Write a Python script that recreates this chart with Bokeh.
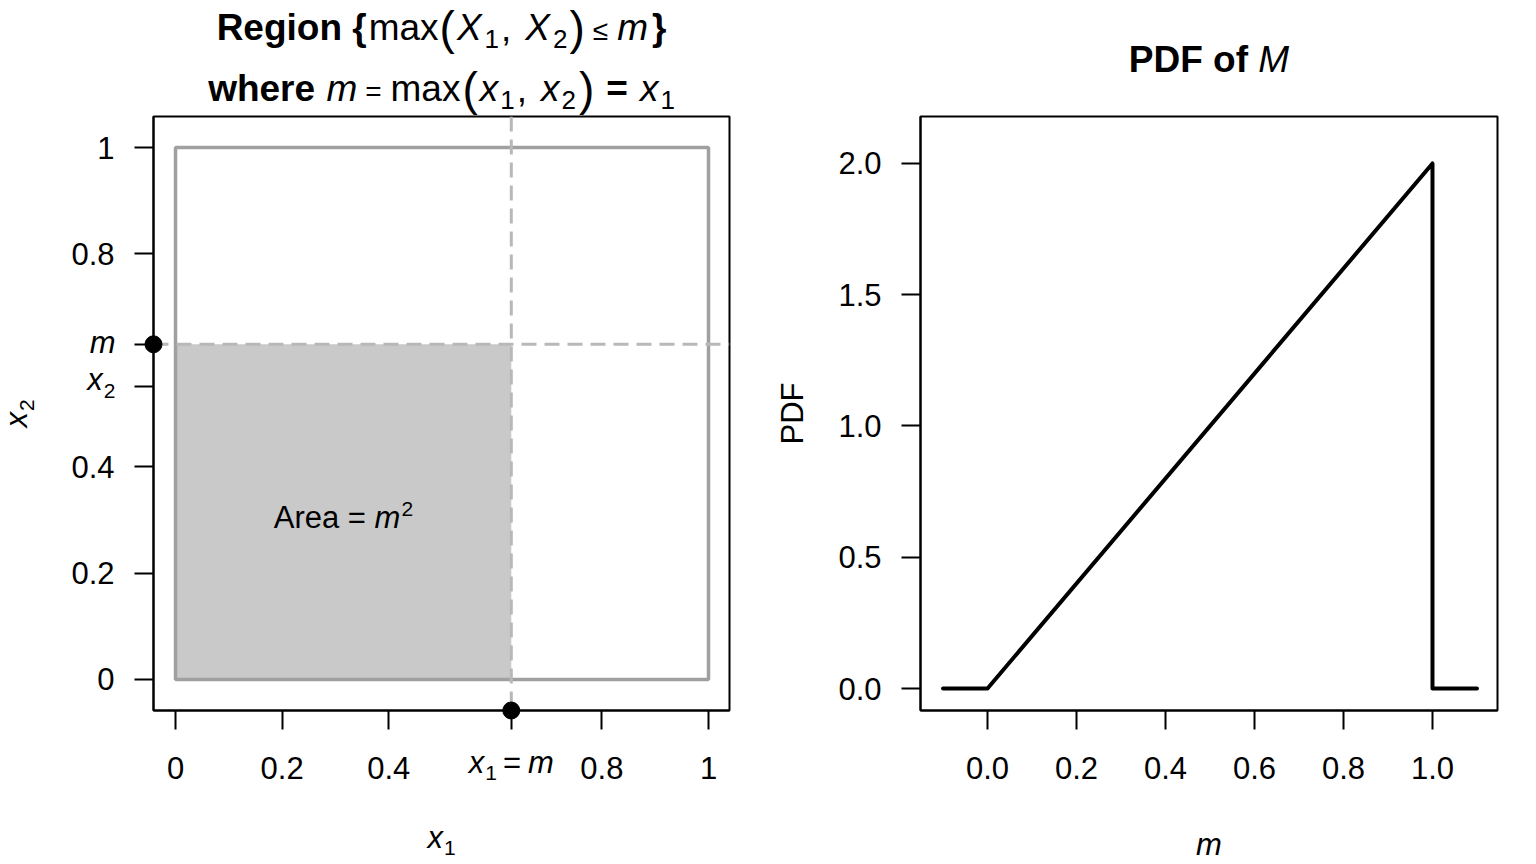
import math
from bokeh.plotting import figure
from bokeh.models import Range1d, FixedTicker, Label, Span, GridBox
from bokeh.embed import file_html
from bokeh.resources import INLINE

# ---------------- data ----------------
m_val = 0.63            # observed maximum m = max(x1, x2) = x1
x2_val = 0.55           # the other coordinate, x2 < m
area_label_y = 0.3      # height of the "Area = m^2" note

region_ticks = [0, 0.2, 0.4, 0.8, 1]
region_tick_labels = ["0", "0.2", "0.4", "0.8", "1"]

pdf_m = [-0.1, 0.0, 1.0, 1.0, 1.1]
pdf_val = [0.0, 0.0, 2.0, 0.0, 0.0]
pdf_xticks = [0.0, 0.2, 0.4, 0.6, 0.8, 1.0]
pdf_xtick_labels = ["0.0", "0.2", "0.4", "0.6", "0.8", "1.0"]
pdf_yticks = [0.0, 0.5, 1.0, 1.5, 2.0]
pdf_ytick_labels = ["0.0", "0.5", "1.0", "1.5", "2.0"]

# ---------------- styling ----------------
FONT = "Liberation Sans"
BASE = 31          # axis text size (px)
TITLE = 37         # title size (px)
SUB = 21           # sub/superscript size (px)
FIG_W, FIG_H = 768, 864
TOP, BOTTOM, RIGHT = 116, 154, 39
BASELINE_FIX = 0.35   # Label baseline sits this many em low; lift it back

# advance widths (1/1000 em), Helvetica/Arial metrics
REG = {' ': 278, '(': 333, ')': 333, ',': 278, '=': 584, '≤': 549, 'a': 556,
       'm': 833, 'x': 500, 'X': 667, 'M': 833, 'A': 667, 'r': 333, 'e': 556,
       '1': 556, '2': 556, 'P': 667, 'D': 722, 'F': 611, 'o': 556, 'f': 278}
BOLD = {' ': 278, 'R': 722, 'e': 556, 'g': 611, 'i': 278, 'o': 611, 'n': 611,
        '{': 389, '}': 389, 'w': 778, 'h': 611, 'r': 389, '=': 584, 'P': 667,
        'D': 722, 'F': 611, 'f': 333}


def advance(text, style, size):
    table = BOLD if style == "bold" else REG
    return sum(table.get(c, 556) for c in text) / 1000.0 * size


def math_text(p, x, y, pieces, dx=0, dy=0, align="center", angle=0.0):
    """Lay out a run of (text, style, size, rise, gap) pieces from an anchor."""
    widths = [advance(t, s, z) + g for (t, s, z, r, g) in pieces]
    total = sum(widths)
    start = {"left": 0.0, "center": -total / 2.0, "right": -total}[align]
    cur = start
    for (t, s, z, r, g), w in zip(pieces, widths):
        lift = r + BASELINE_FIX * z
        if angle:
            xo, yo = dx - lift, dy + cur
        else:
            xo, yo = dx + cur, dy + lift
        p.add_layout(Label(x=x, y=y, x_offset=xo, y_offset=yo, text=t,
                           text_font=FONT, text_font_size=f"{z}px",
                           text_font_style=s, text_color="black",
                           text_align="left", text_baseline="alphabetic",
                           angle=angle))
        cur += w


def make_fig(xr, yr, left):
    p = figure(width=FIG_W, height=FIG_H, x_range=Range1d(*xr), y_range=Range1d(*yr),
               output_backend="svg", toolbar_location=None, title=None,
               min_border_left=left, min_border_right=RIGHT,
               min_border_top=TOP, min_border_bottom=BOTTOM)
    p.frame_align = False
    p.grid.visible = False
    p.outline_line_color = "black"
    p.outline_line_width = 2
    p.background_fill_color = "white"
    p.border_fill_color = "white"
    for ax in p.axis:
        ax.axis_line_width = 2
        ax.axis_line_color = "black"
        ax.major_tick_line_width = 2
        ax.major_tick_out = 19
        ax.major_tick_in = 0
        ax.minor_tick_line_color = None
        ax.major_label_text_font = FONT
        ax.major_label_text_font_size = f"{BASE}px"
        ax.major_label_text_color = "black"
    p.xaxis.major_label_standoff = 27
    p.yaxis.major_label_standoff = 20
    return p


def make_margin_layer(xr, yr, left):
    """Transparent layer over a whole panel, sharing the panel's data
    coordinates, for annotations that sit in the margins."""
    ppx = (FIG_W - left - RIGHT) / (xr[1] - xr[0])
    ppy = (FIG_H - TOP - BOTTOM) / (yr[1] - yr[0])
    ext_x = (xr[0] - left / ppx, xr[1] + RIGHT / ppx)
    ext_y = (yr[0] - BOTTOM / ppy, yr[1] + TOP / ppy)
    o = figure(width=FIG_W, height=FIG_H, x_range=Range1d(*ext_x),
               y_range=Range1d(*ext_y), x_axis_type=None, y_axis_type=None,
               output_backend="svg", toolbar_location=None, title=None,
               min_border=0, min_border_left=0, min_border_right=0,
               min_border_top=0, min_border_bottom=0)
    o.frame_align = False
    o.grid.visible = False
    o.outline_line_color = None
    o.background_fill_color = None
    o.border_fill_color = None
    return o


# ================= left panel: the region {max(X1, X2) <= m} =================
xr1 = (-0.0413, 1.0394)
yr1 = (-0.0583, 1.0583)
p1 = make_fig(xr1, yr1, 153)
o1 = make_margin_layer(xr1, yr1, 153)

x_ticks1 = region_ticks + [m_val]
y_ticks1 = region_ticks + [x2_val, m_val]
p1.xaxis.ticker = FixedTicker(ticks=x_ticks1)
p1.yaxis.ticker = FixedTicker(ticks=y_ticks1)
over_x = dict(zip(region_ticks, region_tick_labels))
over_x[m_val] = ""
over_y = dict(zip(region_ticks, region_tick_labels))
over_y[x2_val] = ""
over_y[m_val] = ""
p1.xaxis.major_label_overrides = over_x
p1.yaxis.major_label_overrides = over_y

# shaded square [0, m] x [0, m]
p1.quad(left=[0], right=[m_val], bottom=[0], top=[m_val],
        fill_color="#C9C9C9", line_color=None)
# unit square outline
p1.quad(left=[0], right=[1], bottom=[0], top=[1],
        fill_color=None, line_color="#A0A0A0", line_width=3.5)
# guides at m
for loc, dim in ((m_val, "height"), (m_val, "width")):
    p1.add_layout(Span(location=loc, dimension=dim, line_color="#B8B8B8",
                       line_width=3, line_dash="15 8"))

# Area note
math_text(p1, m_val / 2, area_label_y,
          [("Area = ", "normal", BASE, 0, 0), ("m", "italic", BASE, 0, 1),
           ("2", "normal", SUB, 12, 0)], dy=-8)

# markers where m meets the axes
o1.scatter(x=[m_val, xr1[0]], y=[yr1[0], m_val], size=17,
           fill_color="black", line_color="black")

# tick labels written as math
math_text(o1, m_val, yr1[0],
          [("x", "italic", BASE, 0, 1), ("1", "normal", SUB, -7, 6),
           ("=", "normal", BASE, 0, 7), ("m", "italic", BASE, 0, 0)], dy=-63)
math_text(o1, xr1[0], m_val, [("m", "italic", BASE, 0, 0)], dx=-38, dy=-9,
          align="right")
math_text(o1, xr1[0], x2_val,
          [("x", "italic", BASE, 0, 1), ("2", "normal", SUB, -8, 0)],
          dx=-38, dy=-3, align="right")

# axis titles
xmid1 = (xr1[0] + xr1[1]) / 2
ymid1 = (yr1[0] + yr1[1]) / 2
math_text(o1, xmid1, yr1[0],
          [("x", "italic", BASE, 0, 1), ("1", "normal", SUB, -7, 0)], dy=-138)
math_text(o1, xr1[0], ymid1,
          [("x", "italic", BASE, 0, 1), ("2", "normal", SUB, -7, 0)],
          dx=-126, angle=math.pi / 2)

# two-line title
math_text(o1, xmid1, yr1[1],
          [("Region ", "bold", TITLE, 0, 0), ("{", "bold", TITLE, 0, 2),
           ("max", "normal", TITLE, 0, 1), ("(", "normal", 46, -4, 2),
           ("X", "italic", TITLE, 0, 3), ("1", "normal", 26, -8, 2),
           (",", "normal", TITLE, 0, 14), ("X", "italic", TITLE, 0, 3),
           ("2", "normal", 26, -8, 2), (")", "normal", 46, -4, 8),
           ("≤", "normal", 28, 0, 9), ("m", "italic", TITLE, 0, 4),
           ("}", "bold", TITLE, 0, 0)], dy=76)
math_text(o1, xmid1, yr1[1],
          [("where ", "bold", TITLE, 0, 1), ("m", "italic", TITLE, 0, 8),
           ("=", "normal", 28, 0, 9), ("max", "normal", TITLE, 0, 2),
           ("(", "normal", 46, -4, 2), ("x", "italic", TITLE, 0, 2),
           ("1", "normal", 26, -8, 2), (",", "normal", TITLE, 0, 14),
           ("x", "italic", TITLE, 0, 2), ("2", "normal", 26, -8, 3),
           (")", "normal", 46, -4, 12), ("=", "bold", TITLE, 0, 12),
           ("x", "italic", TITLE, 0, 2), ("1", "normal", 26, -8, 0)], dy=15)

# ================= right panel: PDF of M =================
xr2 = (-0.1506, 1.1461)
yr2 = (-0.0838, 2.1790)
p2 = make_fig(xr2, yr2, 152)
o2 = make_margin_layer(xr2, yr2, 152)
p2.xaxis.ticker = FixedTicker(ticks=pdf_xticks)
p2.yaxis.ticker = FixedTicker(ticks=pdf_yticks)
p2.xaxis.major_label_overrides = dict(zip(pdf_xticks, pdf_xtick_labels))
p2.yaxis.major_label_overrides = dict(zip(pdf_yticks, pdf_ytick_labels))

p2.line(pdf_m, pdf_val, line_color="black", line_width=4,
        line_join="round", line_cap="round")

xmid2 = (xr2[0] + xr2[1]) / 2
ymid2 = (yr2[0] + yr2[1]) / 2
math_text(o2, xmid2, yr2[1],
          [("PDF of ", "bold", TITLE, 0, 0), ("M", "italic", TITLE, 0, 0)], dy=44)
math_text(o2, xmid2, yr2[0], [("m", "italic", BASE, 0, 0)], dy=-145)
math_text(o2, xr2[0], ymid2, [("PDF", "normal", BASE, 0, 0)], dx=-117,
          angle=math.pi / 2)

# each margin layer shares its panel's grid cell and sits on top of it
layout = GridBox(children=[(p1, 0, 0), (p2, 0, 1), (o1, 0, 0), (o2, 0, 1)])
open("out.html", "w").write(file_html(layout, INLINE))
